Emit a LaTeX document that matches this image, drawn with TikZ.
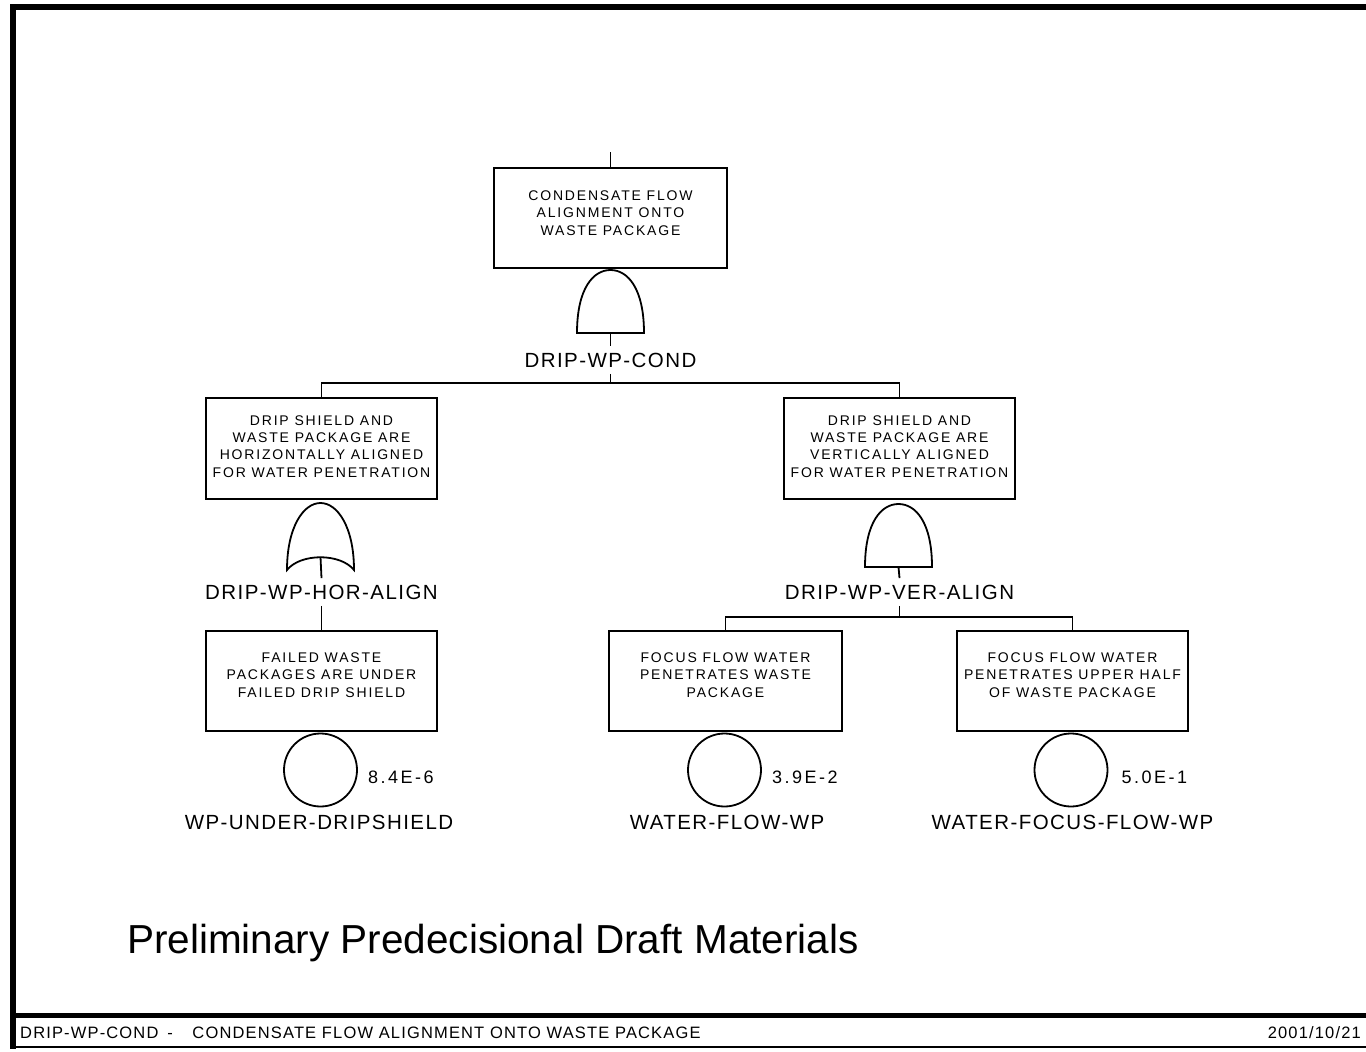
\documentclass[tikz,border=0pt]{standalone}
\usepackage{fontspec}
\setmainfont{Liberation Sans}
\newfontfamily\bxf[LetterSpace=13]{Liberation Sans}
\newfontfamily\lbf[LetterSpace=7]{Liberation Sans}
\newfontfamily\prf[LetterSpace=14]{Liberation Sans}
\newfontfamily\ftf[LetterSpace=7]{Liberation Sans}
\usetikzlibrary{calc}
\tikzset{
  box/.style={draw, line width=1.8pt, minimum width=231pt, minimum height=100pt, inner sep=0pt},
  bt/.style={align=center, font=\bxf\fontsize{14}{17.2}\selectfont, inner sep=0pt},
  gl/.style={font=\lbf\fontsize{20.5}{24}\selectfont, inner xsep=2pt, inner ysep=6.5pt},
  evl/.style={font=\lbf\fontsize{20.5}{24}\selectfont, inner sep=0pt},
  prob/.style={font=\prf\fontsize{18}{20}\selectfont, inner sep=0pt, anchor=west},
  basic/.style={draw, circle, line width=1.8pt, minimum size=73pt, inner sep=0pt},
  wire/.style={line width=1.8pt},
  andgate/.pic={
    \draw[line width=1.8pt] (-33.5,0) .. controls (-33.5,-45) and (-17,-63) .. (0,-63)
      .. controls (17,-63) and (33.5,-45) .. (33.5,0) -- cycle;
    \coordinate (-out) at (0,0);
  },
  orgate/.pic={
    \draw[line width=1.8pt] (-33.5,13) .. controls (-33.5,-30) and (-17,-54) .. (0,-54)
      .. controls (17,-54) and (33.5,-30) .. (33.5,13)
      .. controls (20,-4) and (-20,-4) .. (-33.5,13) -- cycle;
    \coordinate (-out) at (0,0);
  }
}
\begin{document}
\begin{tikzpicture}[x=1pt,y=-1pt]
\useasboundingbox (0,0) rectangle (1366,1052);
% frame
\draw[line width=6pt] (1372,7) -- (13,7) -- (13,1049);
\draw[line width=5.5pt] (13,1015.5) -- (1372,1015.5);
\draw[line width=2pt] (13,1047) -- (1372,1047);

% boxes
\node[box, minimum width=233pt] (t) at (610.5,218) {};
\node[box, minimum height=101pt] (b2) at (321.5,448.5) {};
\node[box, minimum height=101pt] (b3) at (899.5,448.5) {};
\node[box] (b4) at (321.5,681) {};
\node[box, minimum width=233pt] (b5) at (725.5,681) {};
\node[box] (b6) at (1072.5,681) {};

\node[bt] (tt) at (610.5,213) {CONDENSATE FLOW\\ALIGNMENT ONTO\\WASTE PACKAGE};
\node[bt] (b2t) at (321.5,446.5) {DRIP SHIELD AND\\WASTE PACKAGE ARE\\HORIZONTALLY ALIGNED\\FOR WATER PENETRATION};
\node[bt] (b3t) at (899.5,446.5) {DRIP SHIELD AND\\WASTE PACKAGE ARE\\VERTICALLY ALIGNED\\FOR WATER PENETRATION};
\node[bt] (b4t) at (321.5,675) {FAILED WASTE\\PACKAGES ARE UNDER\\FAILED DRIP SHIELD};
\node[bt] (b5t) at (725.5,675) {FOCUS FLOW WATER\\PENETRATES WASTE\\PACKAGE};
\node[bt] (b6t) at (1072.5,675) {FOCUS FLOW WATER\\PENETRATES UPPER HALF\\OF WASTE PACKAGE};

% gates
\pic (g1) at (610.5,333) {andgate};
\pic (g2) at (320.5,557) {orgate};
\pic (g3) at (898.5,567) {andgate};

% gate labels
\node[gl] (l1) at (610.5,360) {DRIP-WP-COND};
\node[gl] (l2) at (321.5,592) {DRIP-WP-HOR-ALIGN};
\node[gl] (l3) at (899.5,592) {DRIP-WP-VER-ALIGN};

% basic events
\node[basic] (e1) at (320.5,770) {};
\node[basic] (e2) at (724.5,770) {};
\node[basic] (e3) at (1071,770) {};
\node[prob] (p1) at ([xshift=10pt,yshift=-7pt]e1.east) {8.4E-6};
\node[prob] (p2) at ([xshift=10pt,yshift=-7pt]e2.east) {3.9E-2};
\node[prob] (p3) at ([xshift=13pt,yshift=-7pt]e3.east) {5.0E-1};
\node[evl] (n1) at (319,822) {WP-UNDER-DRIPSHIELD};
\node[evl] (n2) at (727,822) {WATER-FLOW-WP};
\node[evl] (n3) at (1072.5,822) {WATER-FOCUS-FLOW-WP};

% connectors
\coordinate (topin) at (610.5,152);
\coordinate (j1) at (610.5,383);
\coordinate (j2) at (899.5,617);
\draw[wire] (topin) -- (t.north);
\draw[wire] (g1-out) -- (l1.north);
\draw[wire] (l1.south) -- (j1);
\draw[wire] (b2.north) |- (j1) -| (b3.north);
\draw[wire] (g2-out) -- (l2.north);
\draw[wire] (l2.south) -- (b4.north);
\draw[wire] (g3-out) -- (l3.north);
\draw[wire] (l3.south) -- (j2);
\draw[wire] (b5.north) |- (j2) -| (b6.north);

% titles
\node[anchor=base west, inner sep=0pt, font=\fontsize{40.5}{48}\selectfont] (draft) at (127,953) {Preliminary Predecisional Draft Materials};
\node[anchor=west, inner sep=0pt, font=\ftf\fontsize{16.5}{19}\selectfont] (foot) at (20,1032.5) {DRIP-WP-COND\hspace{9pt}-\hspace{19.5pt}CONDENSATE FLOW ALIGNMENT ONTO WASTE PACKAGE};
\node[anchor=east, inner sep=0pt, font=\ftf\fontsize{16.5}{19}\selectfont] (date) at (1361,1032.5) {2001/10/21};
\end{tikzpicture}
\end{document}
